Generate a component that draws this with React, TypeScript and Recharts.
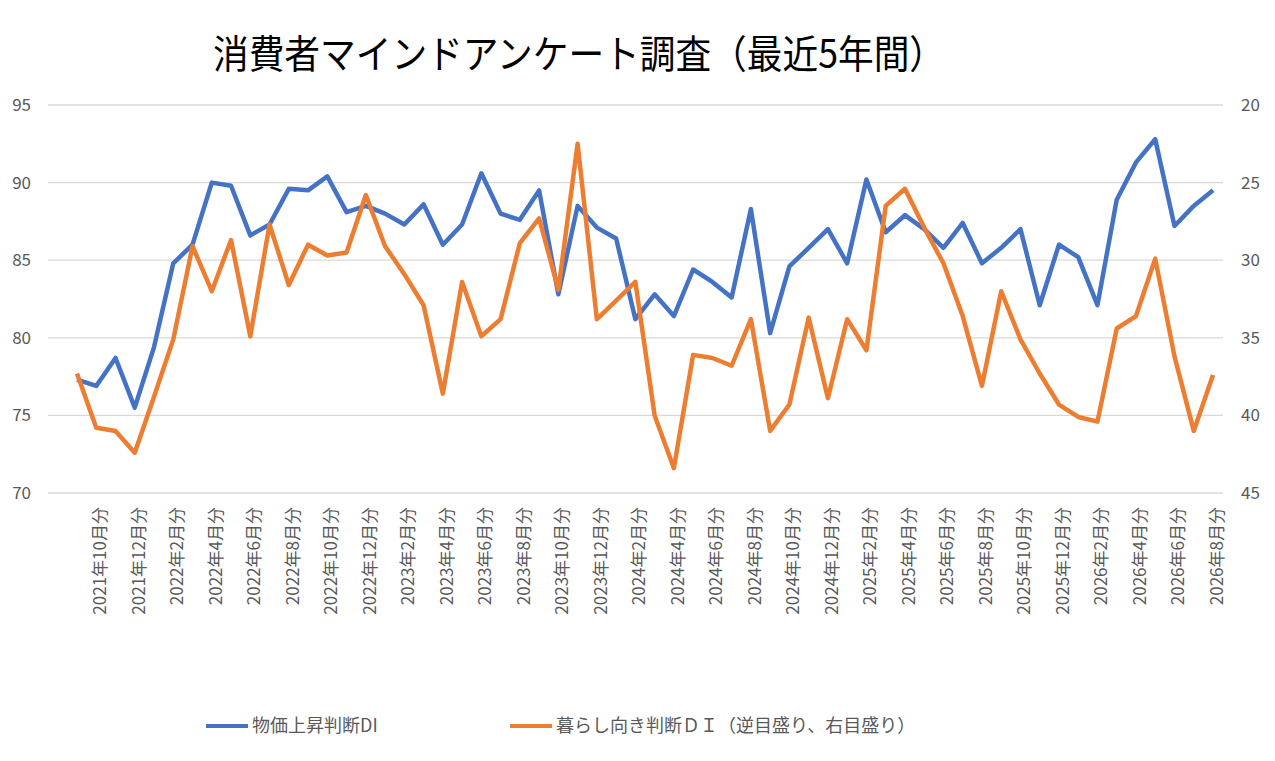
import React from "react";
import { LineChart, Line, XAxis, YAxis, CartesianGrid, Legend } from "recharts";

// 2021年9月分 .. 2026年8月分
const months = [
  "2021年9月分", "2021年10月分", "2021年11月分", "2021年12月分",
  "2022年1月分", "2022年2月分", "2022年3月分", "2022年4月分", "2022年5月分", "2022年6月分",
  "2022年7月分", "2022年8月分", "2022年9月分", "2022年10月分", "2022年11月分", "2022年12月分",
  "2023年1月分", "2023年2月分", "2023年3月分", "2023年4月分", "2023年5月分", "2023年6月分",
  "2023年7月分", "2023年8月分", "2023年9月分", "2023年10月分", "2023年11月分", "2023年12月分",
  "2024年1月分", "2024年2月分", "2024年3月分", "2024年4月分", "2024年5月分", "2024年6月分",
  "2024年7月分", "2024年8月分", "2024年9月分", "2024年10月分", "2024年11月分", "2024年12月分",
  "2025年1月分", "2025年2月分", "2025年3月分", "2025年4月分", "2025年5月分", "2025年6月分",
  "2025年7月分", "2025年8月分", "2025年9月分", "2025年10月分", "2025年11月分", "2025年12月分",
  "2026年1月分", "2026年2月分", "2026年3月分", "2026年4月分", "2026年5月分", "2026年6月分",
  "2026年7月分", "2026年8月分",
];

// 物価上昇判断DI (left axis)
const priceDI = [
  77.3, 76.9, 78.7, 75.5,
  79.4, 84.8, 86.0, 90.0, 89.8, 86.6, 87.3, 89.6, 89.5, 90.4, 88.1, 88.5,
  88.0, 87.3, 88.6, 86.0, 87.3, 90.6, 88.0, 87.6, 89.5, 82.8, 88.5, 87.1,
  86.4, 81.2, 82.8, 81.4, 84.4, 83.6, 82.6, 88.3, 80.3, 84.6, 85.8, 87.0,
  84.8, 90.2, 86.8, 87.9, 87.0, 85.8, 87.4, 84.8, 85.8, 87.0, 82.1, 86.0,
  85.2, 82.1, 88.9, 91.3, 92.8, 87.2, 88.5, 89.5,
];

// 暮らし向き判断DI (right axis, reversed)
const livingDI = [
  37.3, 40.8, 41.0, 42.4,
  38.8, 35.1, 29.1, 32.0, 28.7, 34.9, 27.7, 31.6, 29.0, 29.7, 29.5, 25.8,
  29.1, 30.9, 32.9, 38.6, 31.4, 34.9, 33.8, 28.9, 27.3, 31.9, 22.5, 33.8,
  32.6, 31.4, 40.0, 43.4, 36.1, 36.3, 36.8, 33.8, 41.0, 39.3, 33.7, 38.9,
  33.8, 35.8, 26.5, 25.4, 27.9, 30.2, 33.6, 38.1, 32.0, 35.1, 37.3, 39.3,
  40.1, 40.4, 34.4, 33.6, 29.9, 36.2, 41.0, 37.4,
];

const leftTicks = [70, 75, 80, 85, 90, 95];
const rightTicks = [20, 25, 30, 35, 40, 45];

const BLUE = "#4472C4";
const ORANGE = "#ED7D31";
const GRAY = "#595959";
const FONT = '"Noto Sans CJK JP", "Noto Sans", sans-serif';

const data = months.map((month, i) => ({ month, price: priceDI[i], living: livingDI[i] }));

// every other month, starting with 2021年10月分
function MonthTick({ x, y, payload }: any) {
  const i = months.indexOf(payload.value);
  if (i % 2 === 0) return null;
  return (
    <text
      transform={`translate(${x + 10},${y + 6}) rotate(-90)`}
      textAnchor="end"
      fill={GRAY}
      fontSize={17}
      fontFamily={FONT}
    >
      {payload.value}
    </text>
  );
}

// legend item start x, by series key
const legendX: Record<string, number> = { price: 206, living: 510 };

function LegendRow({ payload }: any) {
  return (
    <svg width={1275} height={30}>
      {(payload || []).map((item: any) => {
        const lx = legendX[item.dataKey] ?? 0;
        return (
          <g key={item.dataKey}>
            <line x1={lx} x2={lx + 42} y1={14} y2={14} stroke={item.color} strokeWidth={4} />
            <text x={lx + 46} y={20} fill={GRAY} fontSize={18} fontFamily={FONT}>
              {item.value}
            </text>
          </g>
        );
      })}
    </svg>
  );
}

export default function App() {
  return (
    <div style={{ position: "absolute", left: 0, top: 0, width: 1275, height: 761, background: "#fff" }}>
      <svg width={1275} height={90} style={{ position: "absolute", left: 0, top: 0, zIndex: 1 }}>
        <text x={213} y={68} fontSize={39} fontFamily={FONT} fill="#000" textLength={732} lengthAdjust="spacingAndGlyphs">
          消費者マインドアンケート調査（最近5年間）
        </text>
      </svg>
      <LineChart
        width={1275}
        height={761}
        data={data}
        margin={{ top: 105, right: 0, bottom: 128, left: 0 }}
        style={{ fontFamily: FONT }}
      >
        <CartesianGrid yAxisId="left" vertical={false} stroke="#D9D9D9" strokeWidth={1.3} />
        <XAxis
          dataKey="month"
          interval={0}
          height={140}
          padding={{ left: 29, right: 10 }}
          axisLine={false}
          tickLine={false}
          tick={<MonthTick />}
        />
        <YAxis
          yAxisId="left"
          width={48}
          domain={[70, 95]}
          ticks={leftTicks}
          axisLine={false}
          tickLine={false}
          tickMargin={11}
          tick={{ fill: GRAY, fontSize: 17 }}
        />
        <YAxis
          yAxisId="right"
          orientation="right"
          width={52}
          domain={[20, 45]}
          ticks={rightTicks}
          reversed
          axisLine={false}
          tickLine={false}
          tickMargin={12}
          tick={{ fill: GRAY, fontSize: 17 }}
        />
        <Legend
          layout="horizontal"
          verticalAlign="middle"
          align="center"
          content={<LegendRow />}
          wrapperStyle={{ top: 712, left: 0, width: 1275, height: 30 }}
        />
        <Line
          yAxisId="left"
          type="linear"
          dataKey="price"
          name="物価上昇判断DI"
          stroke={BLUE}
          strokeWidth={4.5}
          strokeLinejoin="round"
          dot={false}
          activeDot={false}
          isAnimationActive={false}
        />
        <Line
          yAxisId="right"
          type="linear"
          dataKey="living"
          name="暮らし向き判断ＤＩ（逆目盛り、右目盛り）"
          stroke={ORANGE}
          strokeWidth={4.5}
          strokeLinejoin="round"
          dot={false}
          activeDot={false}
          isAnimationActive={false}
        />
      </LineChart>
    </div>
  );
}
